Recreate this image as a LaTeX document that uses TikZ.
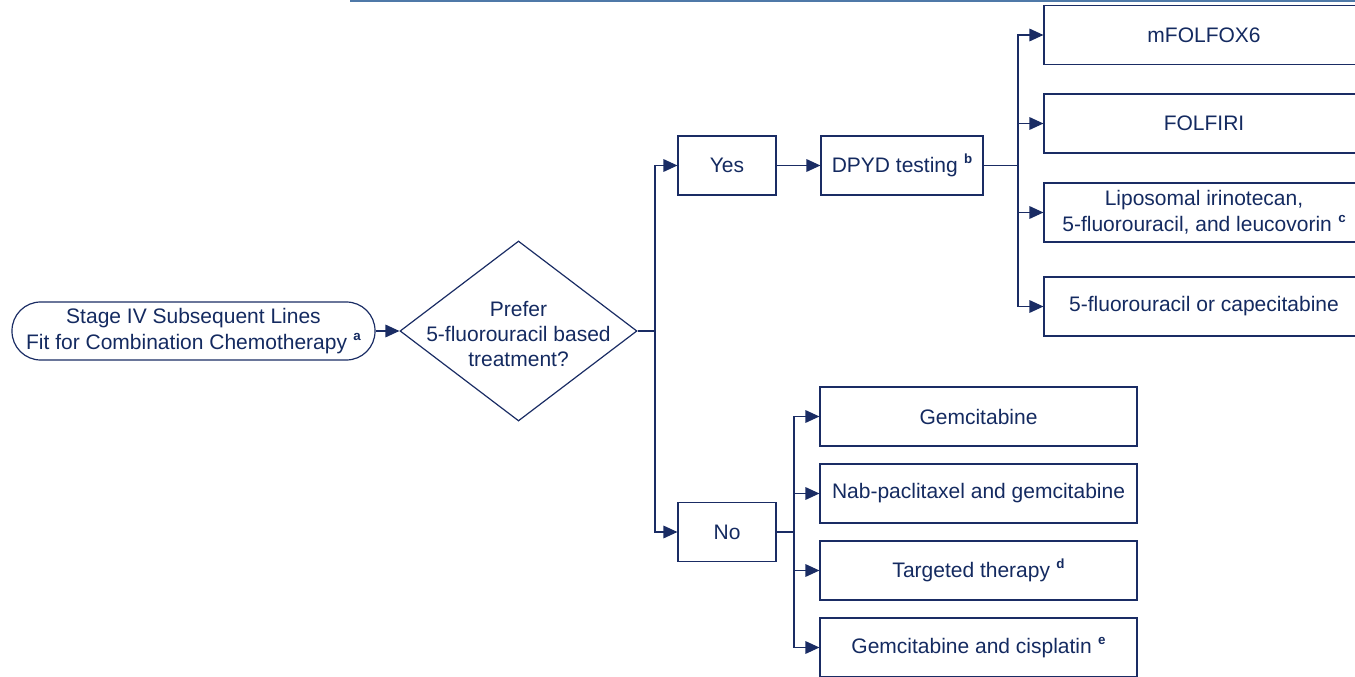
\documentclass[tikz,border=0pt]{standalone}
\usepackage{fontspec}
\setmainfont{Liberation Sans}
\usetikzlibrary{arrows.meta,shapes.geometric}
\definecolor{navy}{HTML}{1A2C64}
\definecolor{txt}{HTML}{142A60}
\definecolor{topline}{HTML}{4F79A8}
\newcommand\fnm[1]{\hspace{0.3em}\raisebox{0.42em}{\fontsize{10pt}{10pt}\selectfont\bfseries #1}}
\tikzset{
  every node/.style={text=txt, font=\fontsize{15.75pt}{19.5pt}\selectfont},
  box/.style={draw=navy, line width=0.9pt, rectangle, align=center, inner sep=0pt, minimum height=44.25pt},
  smallbox/.style={box, minimum width=73.5pt},
  rbox/.style={box, minimum width=240pt},
  lbox/.style={box, minimum width=237.75pt},
  startbox/.style={draw=navy, line width=0.9pt, rectangle, rounded corners=21.5pt, align=center, inner sep=0pt, minimum width=272.25pt, minimum height=43.5pt},
  decbox/.style={draw=navy, line width=0.9pt, diamond, inner sep=0pt, minimum width=177.75pt, minimum height=135pt},
  conn/.style={draw=navy, line width=0.9pt},
  arr/.style={conn, -{Triangle[length=10.5pt,width=9.5pt]}},
}
\begin{document}
\begin{tikzpicture}[x=0.75pt,y=-0.75pt]
\useasboundingbox (0,0) rectangle (1355,677);
\draw[topline, line width=1.3pt] (350,0.8) -- (1355,0.8);

\node[startbox] (start) at (193.5,331) {Stage IV Subsequent Lines\\Fit for Combination Chemotherapy\fnm{a}};
\node[decbox] (dec) at (518.5,331) {};
\node[align=center, font=\fontsize{15.75pt}{18.75pt}\selectfont] (dectext) at (518.5,334) {Prefer\\5-fluorouracil based\\treatment?};

\node[smallbox] (yes) at (727,165.5) {Yes};
\node[box, minimum width=121.5pt] (dpyd) at (902,165.5) {DPYD testing\fnm{b}};
\node[smallbox] (no) at (727,532) {No};

\node[rbox] (r1) at (1204,35) {mFOLFOX6};
\node[rbox] (r2) at (1204,123.5) {FOLFIRI};
\node[rbox] (r3) at (1204,212.5) {Liposomal irinotecan,\\5-fluorouracil, and leucovorin\fnm{c}};
\node[rbox] (r4) at (1204,306.5) {5-fluorouracil or capecitabine};

\node[lbox] (l1) at (978.5,416.5) {Gemcitabine};
\node[lbox] (l2) at (978.5,493.5) {Nab-paclitaxel and gemcitabine};
\node[lbox] (l3) at (978.5,570.5) {Targeted therapy\fnm{d}};
\node[lbox] (l4) at (978.5,647.5) {Gemcitabine and cisplatin\fnm{e}};

\coordinate (j1) at (655,331);
\coordinate (j2) at (1018,165.5);
\coordinate (j3) at (794,532);

\draw[arr] (start.east) -- (dec.west);
\draw[conn] (dec.east) -- (j1);
\draw[arr] (j1) |- (yes.west);
\draw[arr] (j1) |- (no.west);
\draw[arr] (yes.east) -- (dpyd.west);
\draw[conn] (dpyd.east) -- (j2);
\draw[arr] (j2) |- (r1.west);
\draw[arr] (j2) |- (r2.west);
\draw[arr] (j2) |- (r3.west);
\draw[arr] (j2) |- (r4.west);
\draw[conn] (no.east) -- (j3);
\draw[arr] (j3) |- (l1.west);
\draw[arr] (j3) |- (l2.west);
\draw[arr] (j3) |- (l3.west);
\draw[arr] (j3) |- (l4.west);
\end{tikzpicture}
\end{document}
